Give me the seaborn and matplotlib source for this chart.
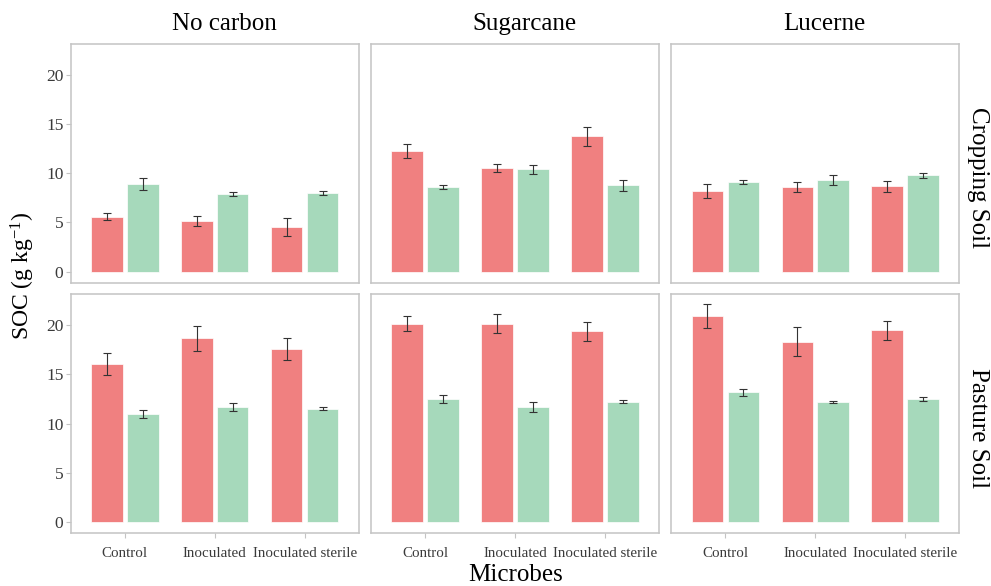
import numpy as np
import pandas as pd
import matplotlib
matplotlib.use("Agg")
import matplotlib.pyplot as plt
import seaborn as sns

# Factor levels
carbon_sources = ["No carbon", "Sugarcane", "Lucerne"]
soils = ["Cropping Soil", "Pasture Soil"]
microbes = ["Control", "Inoculated", "Inoculated sterile"]
series = ["Series 1", "Series 2"]

# Mean SOC (g/kg), ordered by microbes, for each soil x carbon source
crop_nocarbon_s1 = [5.57, 5.14, 4.56]
crop_nocarbon_s2 = [8.92, 7.90, 7.94]
crop_sugarcane_s1 = [12.23, 10.50, 13.72]
crop_sugarcane_s2 = [8.61, 10.40, 8.75]
crop_lucerne_s1 = [8.21, 8.61, 8.65]
crop_lucerne_s2 = [9.12, 9.29, 9.80]
past_nocarbon_s1 = [16.08, 18.68, 17.57]
past_nocarbon_s2 = [10.98, 11.72, 11.52]
past_sugarcane_s1 = [20.14, 20.14, 19.36]
past_sugarcane_s2 = [12.53, 11.72, 12.23]
past_lucerne_s1 = [20.88, 18.28, 19.46]
past_lucerne_s2 = [13.18, 12.20, 12.50]

# Standard errors, same ordering
crop_nocarbon_s1_se = [0.37, 0.47, 0.90]
crop_nocarbon_s2_se = [0.63, 0.19, 0.20]
crop_sugarcane_s1_se = [0.74, 0.39, 0.96]
crop_sugarcane_s2_se = [0.19, 0.47, 0.52]
crop_lucerne_s1_se = [0.69, 0.49, 0.52]
crop_lucerne_s2_se = [0.19, 0.52, 0.25]
past_nocarbon_s1_se = [1.10, 1.27, 1.15]
past_nocarbon_s2_se = [0.39, 0.40, 0.19]
past_sugarcane_s1_se = [0.73, 0.95, 0.98]
past_sugarcane_s2_se = [0.42, 0.50, 0.19]
past_lucerne_s1_se = [1.23, 1.47, 0.93]
past_lucerne_s2_se = [0.37, 0.12, 0.19]

panels = {
    ("Cropping Soil", "No carbon"): (crop_nocarbon_s1, crop_nocarbon_s2, crop_nocarbon_s1_se, crop_nocarbon_s2_se),
    ("Cropping Soil", "Sugarcane"): (crop_sugarcane_s1, crop_sugarcane_s2, crop_sugarcane_s1_se, crop_sugarcane_s2_se),
    ("Cropping Soil", "Lucerne"): (crop_lucerne_s1, crop_lucerne_s2, crop_lucerne_s1_se, crop_lucerne_s2_se),
    ("Pasture Soil", "No carbon"): (past_nocarbon_s1, past_nocarbon_s2, past_nocarbon_s1_se, past_nocarbon_s2_se),
    ("Pasture Soil", "Sugarcane"): (past_sugarcane_s1, past_sugarcane_s2, past_sugarcane_s1_se, past_sugarcane_s2_se),
    ("Pasture Soil", "Lucerne"): (past_lucerne_s1, past_lucerne_s2, past_lucerne_s1_se, past_lucerne_s2_se),
}

rows = []
for (soil, carbon), (m1, m2, e1, e2) in panels.items():
    for i, mic in enumerate(microbes):
        rows.append(dict(soil=soil, carbon=carbon, microbes=mic, series=series[0], soc=m1[i], se=e1[i]))
        rows.append(dict(soil=soil, carbon=carbon, microbes=mic, series=series[1], soc=m2[i], se=e2[i]))
df = pd.DataFrame(rows)

sns.set_theme(style="white")
plt.rcParams["font.family"] = ["Liberation Serif", "DejaVu Serif"]
plt.rcParams["mathtext.fontset"] = "custom"
plt.rcParams["mathtext.rm"] = "Liberation Serif"
plt.rcParams["mathtext.it"] = "Liberation Serif:italic"

palette = {series[0]: "#F08080", series[1]: "#A6D9BB"}
frame_col = "#C4C4C4"
text_col = "#3A3A3A"

fig, axes = plt.subplots(2, 3, figsize=(9.91, 5.86), dpi=100, sharex=True, sharey=True)
fig.subplots_adjust(left=71 / 991, right=959 / 991, top=1 - 44 / 586, bottom=1 - 533 / 586,
                    wspace=0.044, hspace=0.05)

for r, soil in enumerate(soils):
    for c, carbon in enumerate(carbon_sources):
        ax = axes[r, c]
        sub = df[(df.soil == soil) & (df.carbon == carbon)]
        sns.barplot(data=sub, x="microbes", y="soc", hue="series", order=microbes,
                    hue_order=series, palette=palette, width=0.8, gap=0.125,
                    errorbar=None, edgecolor="white", linewidth=0.5, saturation=1,
                    legend=False, ax=ax)
        # error bars at the centre of each drawn bar
        for k, s in enumerate(series):
            vals = sub[sub.series == s].set_index("microbes").loc[microbes]
            bars = ax.containers[k]
            xs = [b.get_x() + b.get_width() / 2 for b in bars]
            ax.errorbar(xs, vals["soc"].values, yerr=vals["se"].values, fmt="none",
                        ecolor="#333333", elinewidth=0.8, capsize=2.6, capthick=0.8, zorder=5)

        ax.set_xlim(-0.6, 2.6)
        ax.set_ylim(-1.1, 23.1)
        ax.set_yticks([0, 5, 10, 15, 20])
        ax.set_xlabel("")
        ax.set_ylabel("")
        for sp in ax.spines.values():
            sp.set_color(frame_col)
            sp.set_linewidth(1.1)
        ax.tick_params(axis="both", colors=frame_col, length=3.5, width=0.8,
                       labelcolor=text_col)
        ax.tick_params(axis="y", labelsize=12.5, pad=2,
                       left=(c == 0), labelleft=(c == 0))
        ax.tick_params(axis="x", labelsize=10.8, pad=6.5,
                       bottom=(r == 1), labelbottom=(r == 1))

        if r == 0:
            ax.text(0.533, 1.082, carbon, transform=ax.transAxes, ha="center", va="center",
                    fontsize=18, color="black")
        if c == 2:
            ax.text(1.066, 0.44, soil, transform=ax.transAxes, ha="center", va="center",
                    rotation=-90, fontsize=18, color="black")

fig.text(23 / 991, 1 - 276 / 586, "SOC (g kg$^{-1}$)", rotation=90, ha="center",
         va="center", fontsize=17, color="black")
fig.text(516 / 991, 1 - 575 / 586, "Microbes", ha="center", va="center",
         fontsize=18, color="black")

fig.savefig("out.png", dpi=100, facecolor="white")
